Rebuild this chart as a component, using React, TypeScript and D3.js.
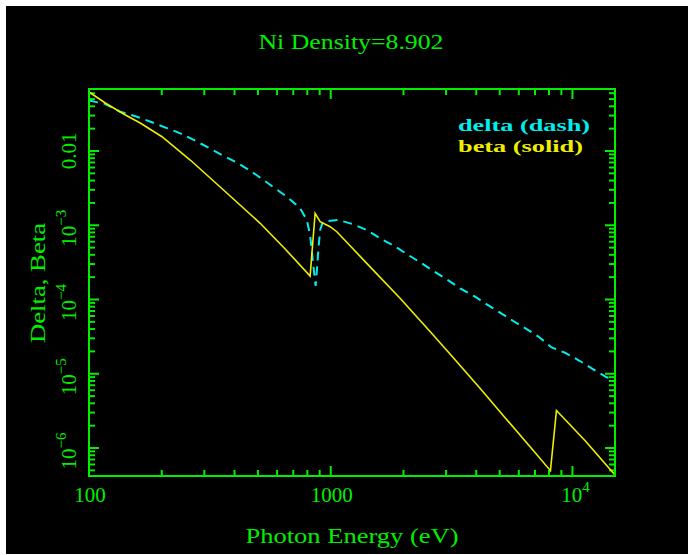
import React from "react";
import * as d3 from "d3";

// Beta (solid, yellow)
const energyBeta = [100, 116.8, 139, 162.9, 200.4, 262.3, 360.2, 510.8, 647.9, 821.9, 861.9, 904, 994, 1059.8, 1410, 1936, 2576, 3116, 4146, 5015, 6887, 8110, 8588, 11265, 15000];
const beta = [0.0623, 0.0443, 0.0315, 0.02383, 0.01558, 0.00756, 0.002984, 0.001062, 4.79e-4, 2.07e-4, 1.449e-3, 1.117e-3, 9.56e-4, 8.18e-4, 3.07e-4, 1.038e-4, 3.7e-5, 1.845e-5, 6.37e-6, 3.08e-6, 9.23e-7, 4.95e-7, 3.2e-6, 1.26e-6, 4.33e-7];

// Delta (dashed, cyan)
const energyDelta = [100, 116.8, 134.7, 157.9, 182.1, 211.3, 238.5, 275.1, 312.2, 354.6, 402.5, 464.4, 526.9, 658.4, 747.4, 796.5, 821.9, 848.3, 866.3, 878.8, 889.8, 904.2, 927.6, 1076, 1241, 1410, 1626, 1846, 2095, 2380, 2658, 3020, 3428, 3954, 4420, 5015, 5692, 6468, 7293, 8204, 9311, 10740, 12190, 13850, 15000];
const delta = [0.0479, 0.04295, 0.0338, 0.02897, 0.02435, 0.0202, 0.01731, 0.01376, 0.01107, 0.00883, 0.00718, 0.00543, 0.00407, 0.002424, 0.001692, 0.001177, 7.39e-4, 2.765e-4, 1.52e-4, 2.765e-4, 4.89e-4, 8.63e-4, 1.116e-3, 1.177e-3, 1.03e-3, 8.63e-4, 6.47e-4, 5.19e-4, 3.97e-4, 3.07e-4, 2.42e-4, 1.87e-4, 1.415e-4, 1.09e-4, 8.62e-5, 6.64e-5, 5.13e-5, 4.0e-5, 3.1e-5, 2.26e-5, 1.92e-5, 1.485e-5, 1.148e-5, 8.96e-6, 8.37e-6];

const xDomain = [100, 15000];
const yDomain = [4.197e-7, 0.06839];

const xTickLabels = [
  { value: 100, base: "100", sup: "" },
  { value: 1000, base: "1000", sup: "" },
  { value: 10000, base: "10", sup: "4" },
];
const yTickLabels = [
  { value: 0.01, base: "0.01", sup: "" },
  { value: 1e-3, base: "10", sup: "\u22123" },
  { value: 1e-4, base: "10", sup: "\u22124" },
  { value: 1e-5, base: "10", sup: "\u22125" },
  { value: 1e-6, base: "10", sup: "\u22126" },
];

const title = "Ni Density=8.902";
const xLabel = "Photon Energy (eV)";
const yLabel = "Delta, Beta";
const legendDelta = "delta (dash)";
const legendBeta = "beta (solid)";

const GREEN = "#00f000";
const CYAN = "#00eeee";
const YELLOW = "#eeee00";
const FONT = "'Liberation Serif', 'DejaVu Serif', serif";

export default function App() {
  const W = 688, H = 555;
  const L = 89, R = 615, T = 89, B = 476;
  const x = d3.scaleLog().domain(xDomain).range([L, R]);
  const y = d3.scaleLog().domain(yDomain).range([B, T]);

  const line = d3.line<[number, number]>().x(d => x(d[0])).y(d => y(d[1]));
  const betaPts: [number, number][] = energyBeta.map((e, i) => [e, beta[i]]);
  const deltaPts: [number, number][] = energyDelta.map((e, i) => [e, delta[i]]);

  const isMajor = (v: number) => Math.abs(Math.log10(v) - Math.round(Math.log10(v))) < 1e-6;
  const xt = x.ticks();
  const yt = y.ticks();
  const MAJ = 10, MIN = 6;

  return (
    <svg width={W} height={H} style={{ position: "absolute", left: 0, top: 0 }}>
      <rect x={0} y={0} width={W} height={H} fill="#fff" />
      <rect x={6} y={6} width={W - 6} height={548} fill="#000" />
      <defs>
        <clipPath id="plotclip">
          <rect x={L} y={T} width={R - L} height={B - T} />
        </clipPath>
      </defs>
      {/* ticks */}
      <g stroke={GREEN} strokeWidth={2}>
        {xt.map((v, i) => {
          const px = x(v);
          const len = isMajor(v) ? MAJ : MIN;
          return (
            <g key={"xt" + i}>
              <line x1={px} x2={px} y1={B} y2={B - len} />
              <line x1={px} x2={px} y1={T} y2={T + len} />
            </g>
          );
        })}
        {yt.map((v, i) => {
          const py = y(v);
          const len = isMajor(v) ? MAJ : MIN;
          return (
            <g key={"yt" + i}>
              <line x1={L} x2={L + len} y1={py} y2={py} />
              <line x1={R} x2={R - len} y1={py} y2={py} />
            </g>
          );
        })}
      </g>
      {/* curves */}
      <g clipPath="url(#plotclip)" fill="none">
        <path d={line(deltaPts) || ""} stroke={CYAN} strokeWidth={2} strokeDasharray="9 6" />
        <path d={line(betaPts) || ""} stroke={YELLOW} strokeWidth={1.6} />
      </g>
      {/* frame */}
      <rect x={L} y={T} width={R - L} height={B - T} fill="none" stroke={GREEN} strokeWidth={2} />
      {/* title */}
      <text x={351} y={49} textAnchor="middle" fill={GREEN} fontFamily={FONT} fontSize={21} textLength={185} lengthAdjust="spacingAndGlyphs">{title}</text>
      {/* legend */}
      <text x={458} y={131} fill={CYAN} fontFamily={FONT} fontSize={16} fontWeight="bold" textLength={132} lengthAdjust="spacingAndGlyphs">{legendDelta}</text>
      <text x={458} y={152} fill={YELLOW} fontFamily={FONT} fontSize={16} fontWeight="bold" textLength={125} lengthAdjust="spacingAndGlyphs">{legendBeta}</text>
      {/* x tick labels */}
      {xTickLabels.map((t, i) => (
        <text key={"xl" + i} x={x(t.value) + (t.sup ? 3 : 1)} y={502} textAnchor="middle" fill={GREEN} fontFamily={FONT} fontSize={21}>
          <tspan>{t.base}</tspan>
          {t.sup ? <tspan dy={-10} fontSize={15}>{t.sup}</tspan> : null}
        </text>
      ))}
      {/* y tick labels */}
      {yTickLabels.map((t, i) => (
        <text key={"yl" + i} transform={`translate(76,${y(t.value) + (t.sup ? 3 : 0)}) rotate(-90)`} textAnchor="middle" fill={GREEN} fontFamily={FONT} fontSize={21}>
          <tspan>{t.base}</tspan>
          {t.sup ? <tspan dy={-10} fontSize={15}>{t.sup}</tspan> : null}
        </text>
      ))}
      {/* axis labels */}
      <text x={352} y={543} textAnchor="middle" fill={GREEN} fontFamily={FONT} fontSize={21} textLength={213} lengthAdjust="spacingAndGlyphs">{xLabel}</text>
      <text transform="translate(45,283) rotate(-90)" textAnchor="middle" fill={GREEN} fontFamily={FONT} fontSize={21} textLength={120} lengthAdjust="spacingAndGlyphs">{yLabel}</text>
    </svg>
  );
}
